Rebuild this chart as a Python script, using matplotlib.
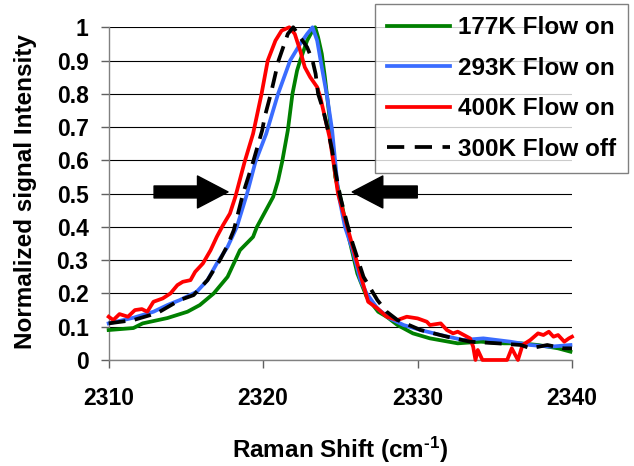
import matplotlib
matplotlib.use("Agg")
import matplotlib.pyplot as plt
from matplotlib.lines import Line2D
from matplotlib.ticker import FormatStrFormatter

plt.rcParams['font.family'] = ['Liberation Sans', 'DejaVu Sans']
plt.rcParams['font.weight'] = 'bold'
plt.rcParams['mathtext.fontset'] = 'custom'
plt.rcParams['mathtext.bf'] = 'Liberation Sans:bold'
plt.rcParams['mathtext.rm'] = 'Liberation Sans:bold'
plt.rcParams['mathtext.default'] = 'bf'

# 177K Flow on
x_177 = [2310.0, 2311.6, 2312.2, 2313.8, 2315.1, 2315.9, 2316.8, 2317.7, 2318.1, 2318.5,
         2319.35, 2319.6, 2320.65, 2320.97, 2321.23, 2321.6, 2321.9, 2322.2, 2322.4, 2322.85,
         2323.2, 2323.37, 2323.56, 2323.8, 2324.0, 2324.2, 2324.47, 2324.67, 2325.0, 2325.44,
         2326.1, 2326.7, 2327.45, 2328.0, 2328.7, 2329.7, 2330.8, 2332.6, 2334.1, 2335.6,
         2336.7, 2337.8, 2339.1, 2339.9]
y_177 = [0.09, 0.096, 0.11, 0.126, 0.145, 0.165, 0.20, 0.25, 0.29, 0.33,
         0.37, 0.40, 0.49, 0.54, 0.595, 0.69, 0.80, 0.87, 0.90, 0.96,
         0.99, 1.0, 0.97, 0.92, 0.85, 0.77, 0.66, 0.55, 0.49, 0.39,
         0.26, 0.19, 0.145, 0.13, 0.105, 0.08, 0.065, 0.05, 0.055, 0.05,
         0.05, 0.045, 0.035, 0.025]

# 293K Flow on
x_293 = [2310.0, 2311.6, 2312.9, 2313.8, 2314.6, 2315.7, 2316.4, 2317.0, 2317.7, 2318.3,
         2318.96, 2319.5, 2320.2, 2320.97, 2321.75, 2322.4, 2322.85, 2323.2, 2323.5, 2323.8,
         2324.15, 2324.47, 2324.67, 2324.87, 2325.3, 2325.8, 2326.3, 2326.7, 2327.4, 2328.2,
         2329.1, 2330.2, 2331.5, 2332.96, 2334.26, 2336.0, 2337.3, 2338.6, 2339.9]
y_293 = [0.11, 0.127, 0.145, 0.165, 0.18, 0.205, 0.24, 0.29, 0.34, 0.40,
         0.50, 0.595, 0.68, 0.80, 0.90, 0.95, 0.98, 1.0, 0.96, 0.88,
         0.79, 0.69, 0.595, 0.50, 0.40, 0.33, 0.24, 0.20, 0.155, 0.125,
         0.105, 0.09, 0.075, 0.06, 0.065, 0.055, 0.045, 0.04, 0.045]

# 400K Flow on
x_400 = [2310.0, 2310.3, 2310.7, 2311.25, 2311.7, 2312.15, 2312.5, 2312.9, 2313.5, 2314.0,
         2314.45, 2314.8, 2315.3, 2315.6, 2316.1, 2316.6, 2317.0, 2317.4, 2317.85, 2318.2,
         2318.8, 2319.35, 2319.9, 2320.3, 2320.8, 2321.2, 2321.7, 2322.05, 2322.4, 2322.7,
         2323.05, 2323.5, 2323.7, 2324.0, 2324.3, 2324.55, 2324.85, 2325.45, 2326.1, 2326.8,
         2327.4, 2328.0, 2328.7, 2329.3, 2330.0, 2330.6, 2330.8, 2331.5, 2331.9, 2332.3,
         2332.6, 2333.0, 2333.4, 2333.6, 2333.75, 2333.9, 2334.2, 2335.8, 2336.1, 2336.5,
         2336.8, 2337.3, 2337.8, 2338.15, 2338.5, 2338.8, 2339.1, 2339.5, 2339.8, 2340.0]
y_400 = [0.13, 0.12, 0.138, 0.13, 0.15, 0.153, 0.145, 0.175, 0.185, 0.20,
         0.225, 0.235, 0.24, 0.265, 0.29, 0.33, 0.37, 0.405, 0.44, 0.49,
         0.595, 0.68, 0.80, 0.90, 0.96, 0.99, 1.0, 0.98, 0.93, 0.88,
         0.85, 0.82, 0.79, 0.73, 0.67, 0.595, 0.50, 0.40, 0.29, 0.175,
         0.155, 0.13, 0.12, 0.13, 0.125, 0.115, 0.105, 0.11, 0.09, 0.08,
         0.085, 0.075, 0.065, 0.04, 0.0, 0.03, 0.0, 0.0, 0.035, 0.0,
         0.045, 0.06, 0.08, 0.075, 0.085, 0.07, 0.075, 0.055, 0.065, 0.07]

# 300K Flow off
x_300 = [2310.0, 2311.6, 2312.7, 2313.3, 2314.6, 2315.5, 2316.4, 2317.2, 2317.7, 2318.1,
         2318.7, 2319.35, 2319.94, 2320.1, 2320.5, 2321.0, 2321.3, 2321.6, 2321.95, 2322.4,
         2322.85, 2323.2, 2323.4, 2323.56, 2323.9, 2324.15, 2324.47, 2324.67, 2325.0, 2325.44,
         2325.8, 2326.5, 2327.4, 2328.0, 2328.7, 2330.2, 2331.9, 2333.4, 2335.2, 2336.7,
         2337.3, 2338.4, 2339.46, 2340.0]
y_300 = [0.11, 0.12, 0.135, 0.145, 0.18, 0.195, 0.24, 0.30, 0.345, 0.39,
         0.50, 0.595, 0.69, 0.73, 0.80, 0.90, 0.94, 0.98, 1.0, 0.97,
         0.94, 0.90, 0.86, 0.80, 0.75, 0.70, 0.63, 0.57, 0.49, 0.41,
         0.35, 0.25, 0.18, 0.145, 0.12, 0.09, 0.07, 0.055, 0.05, 0.045,
         0.035, 0.045, 0.035, 0.035]

labels = ["177K Flow on", "293K Flow on", "400K Flow on", "300K Flow off"]
xticks = [2310, 2320, 2330, 2340]
yticks = [0, 0.1, 0.2, 0.3, 0.4, 0.5, 0.6, 0.7, 0.8, 0.9, 1]

fig = plt.figure(figsize=(6.34, 4.66), dpi=100)
ax = fig.add_axes([0.1714, 0.2275, 0.7308, 0.714])

lw = 2.7
ax.plot(x_177, y_177, color='#008000', lw=lw, clip_on=False, zorder=3)
ax.plot(x_293, y_293, color='#3a6cff', lw=lw, clip_on=False, zorder=4)
ax.plot(x_400, y_400, color='#ff0000', lw=lw, clip_on=False, zorder=5)
ax.plot(x_300, y_300, color='black', lw=lw, ls=(0, (4.5, 2.5)), clip_on=False, zorder=6)

ax.set_xlim(2310, 2340)
ax.set_ylim(0, 1)
ax.set_xticks(xticks)
ax.set_yticks(yticks)
ax.yaxis.set_major_formatter(FormatStrFormatter('%g'))
ax.grid(axis='y', color='black', lw=0.8, zorder=1)
ax.set_axisbelow(True)
for s in ['top', 'right']:
    ax.spines[s].set_visible(False)
for s in ['left', 'bottom']:
    ax.spines[s].set_color('#808080')
    ax.spines[s].set_linewidth(1.0)
ax.tick_params(axis='both', direction='out', length=5.5, width=1.0, color='#606060',
               labelsize=16.5)
ax.tick_params(axis='y', pad=9)
ax.tick_params(axis='x', pad=14)

# FWHM arrows
arrow = dict(arrowstyle='simple,head_length=2.2,head_width=2.3,tail_width=0.86',
             color='black', shrinkA=0, shrinkB=0, mutation_scale=10)
ax.annotate('', xy=(2317.73, 0.505), xytext=(2312.94, 0.505), arrowprops=arrow)
ax.annotate('', xy=(2325.77, 0.505), xytext=(2329.98, 0.505), arrowprops=arrow)

fig.text(340 / 634, 1 - 458 / 466, r'Raman Shift (cm$^{\text{-1}}$)', ha='center',
         va='baseline', fontsize=17.5, fontweight='bold')
fig.text(26 / 634, 1 - 192 / 466, 'Normalized signal Intensity', rotation=90,
         ha='center', va='center', fontsize=17.5, fontweight='bold')

handles = [Line2D([], [], color='#008000', lw=lw),
           Line2D([], [], color='#3a6cff', lw=lw),
           Line2D([], [], color='#ff0000', lw=lw),
           Line2D([], [], color='black', lw=lw, ls=(0, (4.6, 2.8)))]
leg = fig.legend(handles, labels, loc='upper left', bbox_to_anchor=(375 / 634, 1 - 4 / 466),
                 borderaxespad=0, fontsize=17.5, frameon=True, fancybox=False,
                 handlelength=2.6, handletextpad=0.3, labelspacing=0.72, borderpad=0.5)
leg.get_frame().set_edgecolor('#606060')
leg.get_frame().set_linewidth(1.0)
for t in leg.get_texts():
    t.set_fontweight('bold')

fig.savefig('out.png', dpi=100)
